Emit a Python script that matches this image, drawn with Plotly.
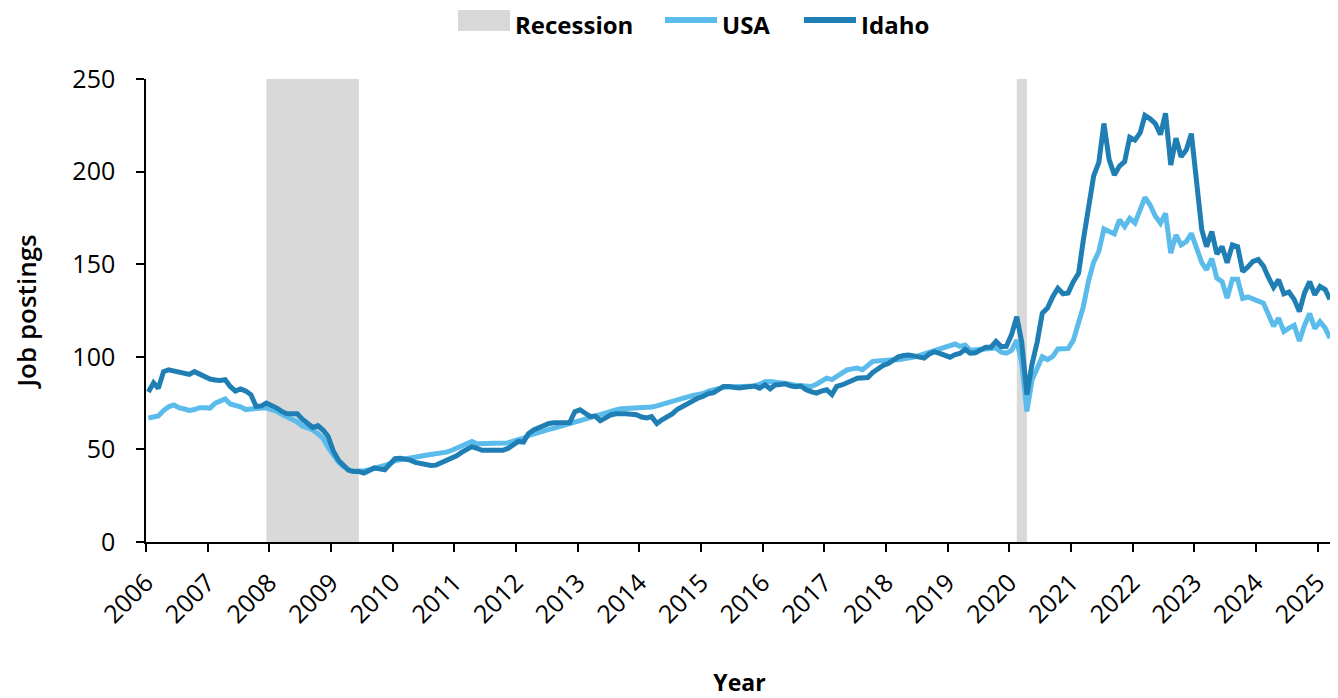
import pandas as pd
import plotly.graph_objects as go

# Monthly job postings index, Jan 2006 .. Mar 2025
idaho = [
    81, 86, 83, 92, 93, 92.5, 91.7, 91, 90.5, 92, 90.5, 89,                        # 2006
    88, 87.5, 87.2, 87.6, 84, 81.5, 82.6, 81.5, 79.5, 73.2, 73.5, 75,              # 2007
    74, 72.3, 70.5, 69.2, 69.2, 69.2, 66.3, 64, 61.8, 62.8, 60.5, 57,              # 2008
    49, 44, 41.5, 38.7, 38, 38, 37.2, 38.5, 40, 39.5, 39, 42,                      # 2009
    45, 45.2, 45, 44.2, 43, 42.2, 41.8, 41.3, 41.5, 42.8, 44, 44.8,                # 2010
    46.5, 48.5, 50.3, 51.5, 50.6, 49.5, 49.6, 49.7, 49.7, 49.5, 50.5, 52.5,        # 2011
    54.3, 54, 58.5, 60.5, 61.8, 63, 64, 64.4, 64.6, 64.2, 64.5, 70.3,              # 2012
    71.4, 69.5, 67.8, 68, 65.5, 67, 68.6, 69.2, 69.5, 69.3, 69, 68.7,              # 2013
    67.5, 67, 67.7, 64, 66, 67.3, 69.2, 71.7, 73.2, 75.3, 76.7, 77.7,              # 2014
    78.7, 80.2, 80.5, 82, 84, 84, 83.6, 83.2, 83.6, 84, 84.2, 83.1,                # 2015
    84.9, 82.7, 84.8, 85.1, 85.4, 84.3, 83.8, 84.2, 82.2, 81.2, 80.4, 81.5,        # 2016
    82.2, 79.6, 84, 84.8, 85.7, 87.2, 88.4, 88.8, 88.8, 91.5, 93.5, 95.3,          # 2017
    96.4, 98.2, 100, 100.7, 101, 100.5, 100, 99.3, 101.5, 102.7, 101.8, 100.5,     # 2018
    99.8, 101.2, 101.8, 104, 102, 102.2, 103.5, 105.2, 105.2, 108.3, 105.5, 105.6, # 2019
    112, 121.7, 108, 79.5, 96, 108, 123.5, 126.3, 132.5, 137, 134, 134.5,          # 2020
    140.6, 145, 163, 181, 197.5, 205, 226, 206.5, 198.2, 203, 205.4, 218.5,        # 2021
    217, 221, 230.3, 228.5, 226, 220, 231.5, 203.6, 218, 208, 211.7, 220.5,        # 2022
    192, 168.5, 159.5, 167.6, 155.5, 159.5, 150.8, 160.4, 159.5, 146, 148.5, 151.5,  # 2023
    152.5, 149, 143, 137.5, 141.6, 134, 135, 131, 124.4, 134.5, 140.6, 133.5,      # 2024
    138, 136.3, 131,                                                               # 2025
]

usa = [
    67, 67.5, 68, 71, 73, 74, 72.5, 71.8, 71, 71.5, 72.5, 72.5,                    # 2006
    72.3, 75, 76, 77.2, 74.5, 74, 73, 71.5, 72, 72.3, 72.3, 72.3,                  # 2007
    71.5, 70.5, 69, 67.6, 65.7, 64.8, 62.6, 61.4, 60.5, 58.5, 56, 51,              # 2008
    46.5, 43, 40.8, 39, 38.2, 38.1, 38.5, 39, 39.6, 40.5, 41.3, 42.3,              # 2009
    43.8, 44.4, 45, 45.5, 46, 46.3, 46.8, 47.2, 47.3, 47.7, 48.5, 49.4,            # 2010
    50.7, 52.3, 53.6, 54.3, 53, 52.8, 53.2, 53.3, 53.2, 53, 53.5, 54.5,            # 2011
    55, 56, 57.4, 58.4, 59.4, 60.2, 60.8, 61.5, 62.2, 62.8, 63.6, 64.7,            # 2012
    65.6, 66.5, 67.3, 68.2, 69, 69.9, 70.7, 71.3, 71.9, 72, 72.2, 72.3,            # 2013
    72.5, 72.7, 72.9, 73.5, 74.4, 75.1, 76, 76.9, 77.7, 78.4, 79.1, 79.6,          # 2014
    80.2, 81.5, 82.3, 83, 83.5, 83.7, 83.9, 84, 84.1, 84.2, 84.3, 85.2,            # 2015
    86.5, 86.7, 86.5, 86.2, 85.8, 85.2, 84.6, 84.2, 84.1, 84, 85.2, 86.5,          # 2016
    88.5, 87.7, 89.5, 91.3, 92.9, 93.5, 93.9, 93, 95.2, 97.5, 97.8, 98.2,          # 2017
    98.4, 98.4, 98.4, 98.8, 99.3, 99.8, 100.7, 101.6, 102.3, 103.3, 104.3, 105.2,  # 2018
    105.8, 106.9, 105.6, 106.3, 103.5, 103.8, 104.4, 104.7, 104.7, 104.7, 102.5, 102,  # 2019
    103.5, 109, 96.6, 70.5, 87.5, 94.5, 100, 98.5, 100.2, 104.2, 104.5, 104.5,     # 2020
    109, 117.5, 127, 141, 151, 157, 169, 167.6, 166.4, 174, 170.3, 174.8,          # 2021
    172.3, 179.5, 186, 182, 176, 172.1, 177.5, 156, 165.8, 160.4, 162.2, 166.6,    # 2022
    159.5, 150.8, 147, 153, 142.5, 140.6, 131.7, 141.9, 141.9, 131.5, 132.3, 131.2,  # 2023
    130, 129, 123, 116.5, 120.9, 113.7, 115.5, 117, 108.5, 117, 123.4, 115.3,      # 2024
    119, 115.5, 110,                                                               # 2025
]

recessions = [('2007-12-15', '2009-06-15'), ('2020-02-15', '2020-04-15')]

dates = pd.date_range('2006-01-01', periods=len(usa), freq='MS') + pd.Timedelta(days=14)

C_USA = '#5bbcec'
C_IDAHO = '#1f7fb4'
C_REC = '#d9d9d9'
FONT = 'Open Sans'

# page body has an 8px margin, so the figure is sized/offset to compensate
OFF = 8
W, H = 1338 - OFF, 698 - OFF
ML, MR, MT, MB = 146 - OFF, 5, 79 - OFF, 156
PW, PH = W - ML - MR, H - MT - MB


def px_x(p):
    return (p - OFF - ML) / PW


def px_y(p):
    return (H - MB - (p - OFF)) / PH


fig = go.Figure()
fig.add_trace(go.Scatter(x=dates, y=usa, mode='lines', name='USA',
                         line=dict(color=C_USA, width=5), cliponaxis=False))
fig.add_trace(go.Scatter(x=dates, y=idaho, mode='lines', name='Idaho',
                         line=dict(color=C_IDAHO, width=5), cliponaxis=False))

for x0, x1 in recessions:
    fig.add_vrect(x0=x0, x1=x1, fillcolor=C_REC, opacity=1, line_width=0, layer='below')

# legend drawn by hand (wide swatches like the original)
shapes = [
    dict(type='rect', xref='paper', yref='paper', x0=px_x(458), x1=px_x(510),
         y0=px_y(31), y1=px_y(10), fillcolor=C_REC, line_width=0),
    dict(type='line', xref='paper', yref='paper', x0=px_x(665), x1=px_x(717),
         y0=px_y(20), y1=px_y(20), line=dict(color=C_USA, width=6)),
    dict(type='line', xref='paper', yref='paper', x0=px_x(804), x1=px_x(856),
         y0=px_y(20), y1=px_y(20), line=dict(color=C_IDAHO, width=6)),
]
for sh in shapes:
    fig.add_shape(**sh)

for txt, xp in [('Recession', 514), ('USA', 721), ('Idaho', 860)]:
    fig.add_annotation(text=f'<b>{txt}</b>', xref='paper', yref='paper',
                       x=px_x(xp), y=px_y(24.5), xanchor='left', yanchor='middle',
                       borderpad=0,
                       showarrow=False, font=dict(family=FONT, size=24, color='black'))

fig.update_layout(
    width=W, height=H,
    margin=dict(l=ML, r=MR, t=MT, b=MB, autoexpand=False),
    paper_bgcolor='white', plot_bgcolor='white',
    showlegend=False,
    font=dict(family=FONT, size=25, color='black'),
)
fig.update_xaxes(
    type='date', range=['2006-01-01', '2025-04-02'], automargin=False,
    tick0='2006-01-01', dtick='M12', tickformat='%Y', tickangle=-45,
    tickfont=dict(family=FONT, size=25, color='black'),
    showgrid=False, zeroline=False,
    showline=True, linecolor='black', linewidth=2,
    ticks='outside', ticklen=8, tickwidth=1.5, tickcolor='black',
    ticklabelstandoff=6,
    title=dict(text='<b>Year</b>', font=dict(size=23), standoff=47),
)
fig.update_yaxes(
    range=[0, 250], tickvals=[0, 50, 100, 150, 200, 250], automargin=False,
    tickfont=dict(family=FONT, size=25, color='black'),
    showgrid=False, zeroline=False,
    showline=True, linecolor='black', linewidth=1.5,
    ticks='outside', ticklen=8, tickwidth=1.5, tickcolor='black',
    ticklabelstandoff=16,
    title=dict(text='Job postings', font=dict(size=26, weight=600), standoff=38),
)

fig.write_html('out.html')
